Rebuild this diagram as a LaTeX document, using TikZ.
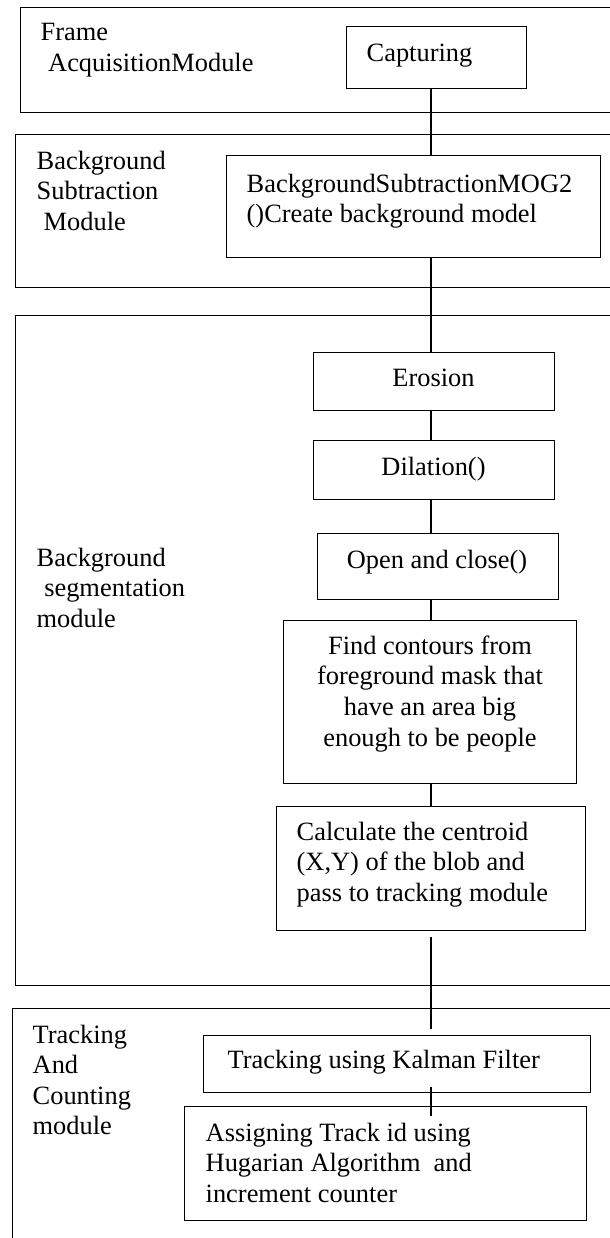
\documentclass[tikz,border=0pt]{standalone}
\usepackage{fontspec}
\setmainfont{Liberation Serif}
\begin{document}
\begin{tikzpicture}[x=0.5pt, y=-0.5pt, line width=0.7pt,
  every node/.style={font=\fontsize{13.2pt}{15.3pt}\selectfont},
  modframe/.style={draw, anchor=north west, inner sep=0pt},
  stepbox/.style={draw, anchor=north west, inner sep=0pt},
  txt/.style={anchor=north west, inner sep=0pt, align=left},
  ctxt/.style={anchor=north, inner sep=0pt, align=center}]
\useasboundingbox (0,0) rectangle (610,1238);
\clip (0,0) rectangle (610,1238);
% module frames (open to the right and bottom)
\node[modframe, minimum width=303pt, minimum height=52.5pt] (acqMod) at (19.5,7) {};
\node[modframe, minimum width=305pt, minimum height=76.5pt] (subMod) at (15,134) {};
\node[modframe, minimum width=305pt, minimum height=335pt] (segMod) at (15,315) {};
\node[modframe, minimum width=306.65pt, minimum height=121pt] (trkMod) at (11.7,1008) {};
\node[txt] (acqLbl) at (40,23) {Frame\\\hspace*{3.75pt}AcquisitionModule};
\node[txt] (subLbl) at (36,150) {Background\\Subtraction\\\hspace*{3.5pt}Module};
\node[txt] (segLbl) at (36,547) {Background\\\hspace*{3.8pt}segmentation\\module};
\node[txt] (trkLbl) at (32,1024) {Tracking\\And\\Counting\\module};
% processing steps
\node[stepbox, minimum width=90.25pt, minimum height=31pt] (cap) at (345.5,26) {};
\node[stepbox, minimum width=187.2pt, minimum height=51pt] (bgs) at (225.6,155) {};
\node[stepbox, minimum width=120.5pt, minimum height=29pt] (ero) at (313,352) {};
\node[stepbox, minimum width=120.5pt, minimum height=29.5pt] (dil) at (313,440) {};
\node[stepbox, minimum width=120.25pt, minimum height=33pt] (opn) at (317,533) {};
\node[stepbox, minimum width=146.5pt, minimum height=81.5pt] (fnd) at (283,620) {};
\node[stepbox, minimum width=154.5pt, minimum height=62pt] (cal) at (275.5,806) {};
\node[stepbox, minimum width=193.4pt, minimum height=28.5pt] (kal) at (202.7,1035) {};
\node[stepbox, minimum width=201.2pt, minimum height=57pt] (asg) at (183.6,1106) {};
\node[anchor=base west, inner sep=0pt] (capTxt) at (366,61) {Capturing};
\node[txt] (bgsTxt) at (246,173) {BackgroundSubtractionMOG2\\()Create background model};
\node[anchor=base, inner sep=0pt] (eroTxt) at (433.5,386) {Erosion};
\node[anchor=base, inner sep=0pt] (dilTxt) at (433.5,475) {Dilation()};
\node[anchor=base, inner sep=0pt] (opnTxt) at (437,568) {Open and close()};
\node[ctxt] (fndTxt) at (430,635) {Find contours from\\foreground mask that\\have an area big\\enough to be people};
\node[txt] (calTxt) at (296,821) {Calculate the centroid\\(X,Y) of the blob and\\pass to tracking module};
\node[anchor=base west, inner sep=0pt] (kalTxt) at (227,1068) {Tracking using Kalman Filter};
\node[txt] (asgTxt) at (205,1122) {Assigning Track id using\\Hugarian Algorithm\ \ and\\increment counter};
% connectors
\coordinate (spine) at (431,0);
\foreach \a/\b in {cap/bgs, bgs/ero, ero/dil, dil/opn, opn/fnd, fnd/cal}
  \draw (\a.south -| spine) -- (\b.north -| spine);
\draw[shorten <=3pt, shorten >=3pt] (cal.south -| spine) -- (kal.north -| spine);
\draw[shorten <=-3pt, shorten >=-5pt] (kal.south -| spine) -- (asg.north -| spine);
\end{tikzpicture}
\end{document}
